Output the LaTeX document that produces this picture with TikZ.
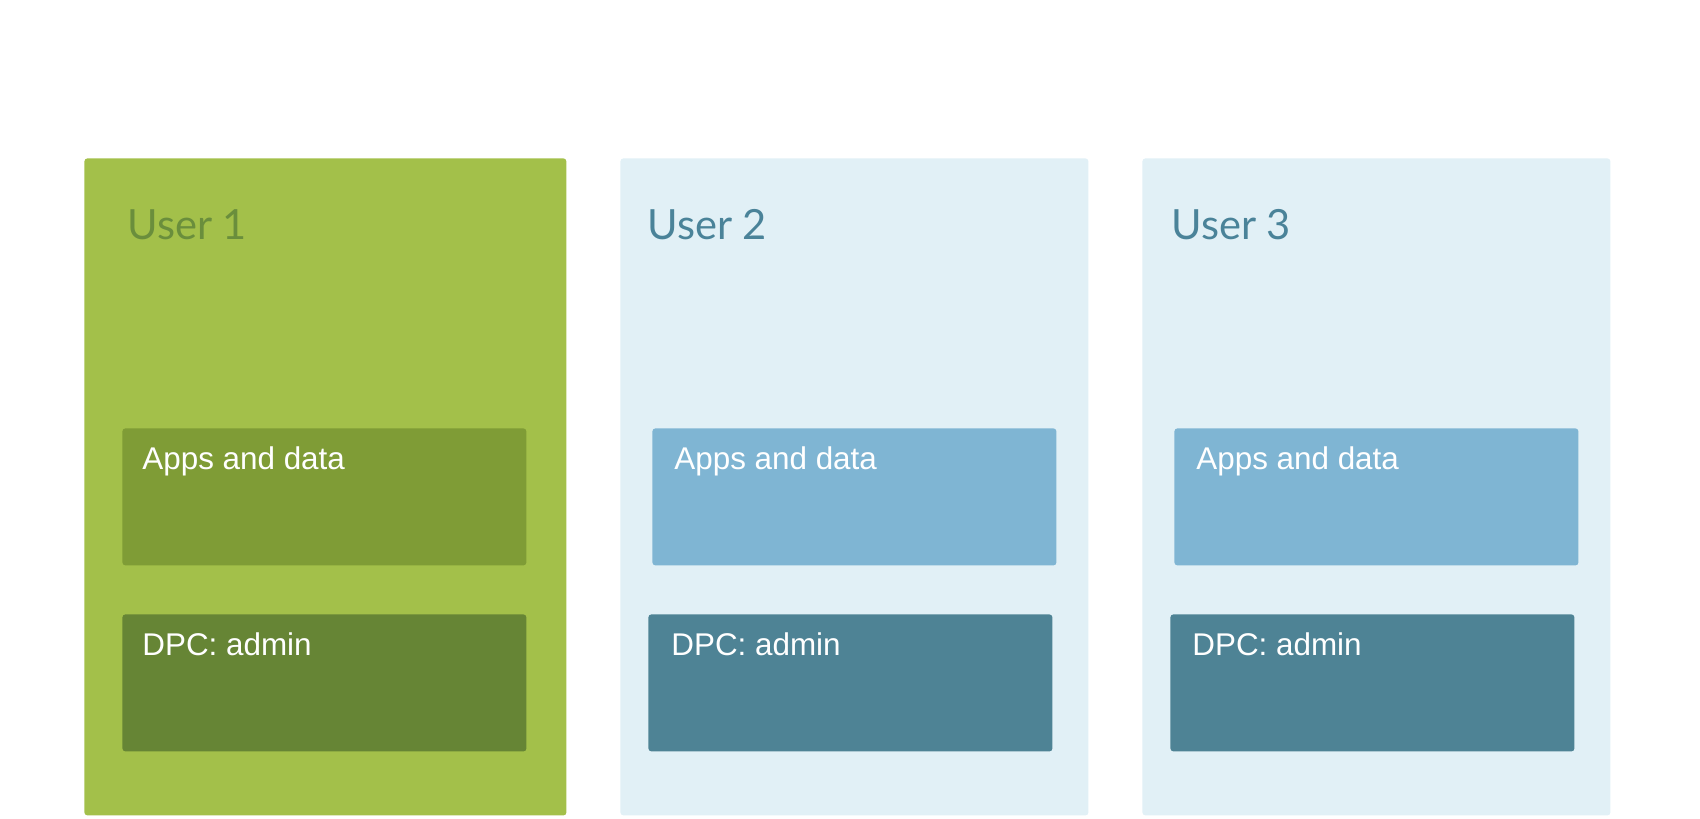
\documentclass[tikz,border=0pt]{standalone}
\usepackage{fontspec}
\setmainfont{Liberation Sans}
\newfontfamily\titlefont{Lato}
\definecolor{greenouter}{HTML}{A3C04A}
\definecolor{greenapps}{HTML}{7F9C36}
\definecolor{greendpc}{HTML}{668535}
\definecolor{greentext}{HTML}{6A8E3C}
\definecolor{blueouter}{HTML}{E1F0F6}
\definecolor{blueapps}{HTML}{7FB5D3}
\definecolor{bluedpc}{HTML}{4E8395}
\definecolor{bluetext}{HTML}{4A8399}

\tikzstyle{userbox}=[rectangle,rounded corners=1.5pt,anchor=north west,inner sep=0pt,minimum width=234pt,minimum height=328.5pt]
\tikzstyle{partbox}=[rectangle,rounded corners=1.5pt,anchor=north west,inner sep=0pt,minimum width=202pt,minimum height=68.5pt]
\tikzstyle{usertitle}=[anchor=base west,inner sep=0pt,font=\titlefont\fontsize{20.8}{24}\selectfont]
\tikzstyle{parttext}=[anchor=base west,inner sep=0pt,text=white,font=\fontsize{15.7}{18}\selectfont]

\begin{document}
\begin{tikzpicture}[x=0.5pt, y=-0.5pt]
			\useasboundingbox (0,0) rectangle (1700,818);
			\node [userbox,fill=greenouter,minimum width=241pt] (user1) at (84,158) {};
			\node [userbox,fill=blueouter] (user2) at (620,158) {};
			\node [userbox,fill=blueouter] (user3) at (1142,158) {};

			\node [partbox,fill=greenapps] (apps1) at (122,428) {};
			\node [partbox,fill=greendpc]  (dpc1)  at (122,614) {};
			\node [partbox,fill=blueapps]  (apps2) at (652,428) {};
			\node [partbox,fill=bluedpc]   (dpc2)  at (648,614) {};
			\node [partbox,fill=blueapps]  (apps3) at (1174,428) {};
			\node [partbox,fill=bluedpc]   (dpc3)  at (1170,614) {};

			\node [usertitle,text=greentext] (user1title) at (127,240) {User 1};
			\node [usertitle,text=bluetext]  (user2title) at (647,240) {User 2};
			\node [usertitle,text=bluetext]  (user3title) at (1171,240) {User 3};

			\node [parttext] (apps1text) at (142,469) {Apps and data};
			\node [parttext] (dpc1text)  at (142,655) {DPC: admin};
			\node [parttext] (apps2text) at (674,469) {Apps and data};
			\node [parttext] (dpc2text)  at (671,655) {DPC: admin};
			\node [parttext] (apps3text) at (1196,469) {Apps and data};
			\node [parttext] (dpc3text)  at (1192,655) {DPC: admin};
	\end{tikzpicture}
\end{document}
